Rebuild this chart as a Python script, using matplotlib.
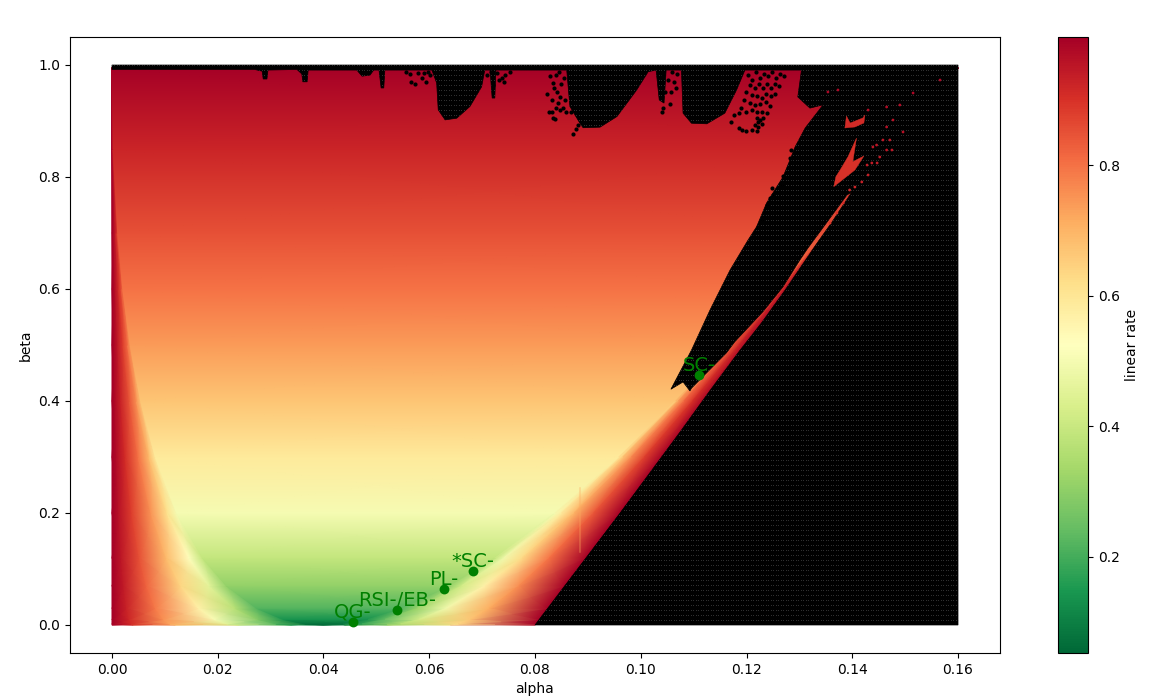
import numpy as np
import matplotlib
matplotlib.use("Agg")
import matplotlib.pyplot as plt
from matplotlib.patches import Polygon, Rectangle

# rate field: one row per beta, alpha positions vary per row
beta_rows = [0, .002, .01, .03, .07, .12, .2, .3, .4, .5, .6, .7, .85, .995]
alpha_table = [
 [0, .004, .012, .024, .034, .04, .04, .044, .052, .064, .08],
 [0, .00365, .01095, .0219, .031, .0365, .04366, .04731, .05461, .06556, .0802],
 [0, .00324, .00972, .01944, .02754, .0324, .0484, .05164, .05812, .06784, .0808],
 [0, .00273, .0082, .0164, .02324, .02734, .05506, .05779, .06326, .07146, .0824],
 [0, .00216, .00649, .01298, .01839, .02163, .064, .06616, .07049, .07698, .0856],
 [0, .00171, .00513, .01025, .01453, .01709, .07251, .07422, .07764, .08276, .0896],
 [0, .00122, .00367, .00733, .01039, .01222, .08378, .085, .08745, .09111, .096],
 [0, .00082, .00245, .00491, .00695, .00818, .09582, .09664, .09827, .10073, .104],
 [0, .00054, .00162, .00324, .00459, .0054, .1066, .10714, .10822, .10984, .112],
 [0, .00034, .00103, .00206, .00292, .00343, .11657, .11691, .1176, .11863, .12],
 [0, .0002, .00061, .00122, .00173, .00203, .12597, .12617, .12658, .12719, .128],
 [0, .00011, .00032, .00064, .00091, .00107, .13493, .13504, .13525, .13557, .136],
 [0, .00002, .00007, .00015, .00021, .00024, .14776, .14778, .14783, .14791, .148],
 [0, .00001, .00002, .00003, .00004, .00005, .16, .16001, .16002, .16003, .16004],
]
rate_table = [
 [1, .9, .7, .4, .15, .02, .02, .1, .3, .6, 1],
 [1, .9085, .7255, .45, .2171, .07, .07, .1689, .3576, .6339, 1],
 [1, .918, .7537, .504, .2866, .14, .14, .2392, .4192, .6711, 1],
 [1, .9294, .7868, .5669, .3672, .22, .22, .3215, .4903, .7146, 1],
 [1, .9417, .8228, .6354, .4572, .31, .31, .4143, .5682, .7618, 1],
 [1, .9512, .8508, .6897, .5308, .39, .39, .4913, .6308, .7989, 1],
 [1, .9614, .8814, .75, .6151, .5, .5, .5805, .7007, .8396, 1],
 [1, .9704, .9084, .8043, .6936, .59, .59, .6644, .7644, .8756, 1],
 [1, .9772, .9289, .8463, .7563, .67, .67, .7319, .8141, .9031, 1],
 [1, .9826, .9454, .881, .8092, .74, .74, .7895, .8554, .9254, 1],
 [1, .987, .9593, .9106, .8553, .8, .8, .84, .891, .9443, 1],
 [1, .991, .9714, .9367, .8966, .85, .85, .8856, .9226, .9607, 1],
 [1, .995, .985, .965, .945, .925, .925, .945, .965, .985, 1],
 [1, 1, 1, 1, 1, 1, .998, 1, 1, 1, 1],
]

# edge of the diverged (black) region, traced along the top, wedge and sliver
edge_alpha = [0, .027, .0284, .0286, .0293, .0295, .035, .0359, .0361, .0369, .0371, .0463, .0473, .0488, .0495,
              .0505, .0509, .0514, .0516, .0605, .0614, .0617, .063, .0652, .0677, .0699, .0705,
              .0715, .0719, .0724, .0726, .086, .0866, .0885, .0891, .0923, .0955, .0992, .1014,
              .1029, .1035, .1044, .1048, .1077, .108, .1096, .1125, .1159, .1181, .1197,
              .1304, .1297, .132, .1345, .1311, .1292, .1282, .1269, .1238, .1219, .1203, .1169, .1131, .1096, .1057,
              .108, .1093, .1096, .1162, .1178, .1231, .1269, .1301, .1316, .1348, .139,
              .1399, .1362, .1332, .1273, .1228, .1188, .1132, .1077, .0961, .08, .16, .16, 0]
edge_beta = [.992, .992, .989, .975, .975, .991, .992, .984, .97, .97, .991, .991, .98, .982, .991,
             .991, .959, .959, .991, .991, .968, .92, .902, .905, .926, .961, .991,
             .991, .941, .941, .991, .991, .926, .896, .888, .889, .908, .955, .988,
             .991, .9375, .932, .991, .991, .914, .896, .895, .914, .955, .991,
             .991, .943, .923, .929, .8875, .854, .83, .8, .7536, .711, .6875, .634, .5625, .491, .421,
             .434, .418, .423, .486, .506, .5595, .604, .652, .673, .714, .768,
             .773, .72, .68, .598, .539, .491, .42, .348, .2, 0, 0, 1, 1]

# black specks inside the coloured area near the top and the wedge
speck_alpha = [.0556, .0564, .0579, .0565, .0573, .0586, .0594, .0601, .0598, .059,
               .0709, .0717, .0728, .0738, .0743, .0753, .0741, .0732, .0721,
               .0823, .0828, .0834, .084, .0845, .0836, .0842, .0849, .0855, .0847, .0857, .0844, .0832, .0853, .0847, .084,
               .0859, .0832, .0826, .0834, .0838, .0868, .0878, .0881, .0872,
               .1042, .1052, .1059, .1069, .1063, .1046, .1067, .1057, .1042, .1055, .104,
               .1203, .121, .1218, .1226, .1233, .1241, .1248, .1256, .1263, .1271,
               .1207, .1216, .1224, .1231, .1239, .1246, .1254, .1261,
               .1199, .121, .122, .1229, .1237, .1246, .1254,
               .1195, .1207, .1216, .1226, .1237, .1244,
               .119, .1199, .121, .122, .1229, .1239, .1176, .1186, .117,
               .122, .1226, .1231, .1216, .1222, .1229, .1222, .1186, .1192, .1199, .121, .122,
               .1248, .1267, .125, .1244, .1238, .1229, .1222, .1212, .1207, .1282, .1285, .1269]
speck_beta = [.9875, .9839, .9857, .9696, .966, .9768, .9696, .9821, .9875, .9857,
              .982, .9875, .9857, .9768, .982, .9875, .9696, .9732, .9643,
              .9482, .9804, .9679, .9821, .9875, .9589, .9518, .9661, .9768, .9429, .9375, .9321, .9375, .9232, .9196, .9232,
              .9161, .9161, .9161, .9054, .9036, .9161, .8857, .8929, .8768,
              .982, .9732, .9875, .9839, .9696, .9518, .9589, .9518, .9232, .9304, .9161,
              .982, .9732, .9875, .9768, .9839, .9804, .9875, .9768, .9839, .9804,
              .9643, .9589, .9661, .9589, .9661, .9589, .9661, .9625,
              .9518, .9464, .9446, .9411, .9482, .9446, .9482,
              .9375, .9321, .9286, .9304, .9339, .9268,
              .9232, .9161, .9196, .9161, .9161, .9143, .9107, .9143, .8982,
              .9054, .9018, .9054, .8929, .8893, .8946, .8982, .8875, .8839, .8821, .8839, .8821,
              .7804, .7839, .7679, .7625, .75, .7232, .7107, .6929, .6839, .8339, .8482, .8018]

# coloured specks and fragments inside the black area
red_alpha = [.1373, .1354, .1515, .1566, .149, .1465, .143, .1477, .1496, .1465, .1446, .1471, .1458, .1439, .1465,
             .1452, .1437, .143, .1418, .1405, .1395, .1383, .1371, .1358, .1428, .1447, .1475]
red_beta = [.9554, .9518, .95, .9732, .9286, .925, .9196, .9018, .8804, .8893, .8571, .8661, .8661, .8536, .8482,
            .8357, .825, .8036, .7911, .7821, .7768, .7536, .7357, .7179, .8214, .825, .8482]
red_rate = [.98, .98, .98, .98, .97, .97, .97, .96, .96, .96, .95, .95, .95, .95, .95,
            .94, .94, .93, .93, .92, .92, .91, .9, .89, .94, .94, .95]
frag1_alpha = [.1365, .1369, .1377, .1392, .1408, .1401, .1422, .1405, .1377]
frag1_beta = [.7827, .8005, .8125, .8363, .8696, .8273, .8375, .8125, .7916]
frag2_alpha = [.1386, .1389, .1396, .142, .1424, .1422, .1405]
frag2_beta = [.8875, .9089, .8964, .9054, .9107, .8964, .8893]
frag_rate = [.9, .91]

# faint lighter streak on the right band
streak_alpha = [.0885, .0885]
streak_beta = [.13, .245]
streak_rate = .72

# named methods
method_names = ["QG-", "RSI-/EB-", "PL-", "*SC-", "SC-"]
method_alpha = [.0456, .0539, .0628, .0683, .111]
method_beta = [.0054, .0268, .0643, .0964, .446]

alpha_ticks = [0, .02, .04, .06, .08, .10, .12, .14, .16]
alpha_tick_labels = ["0.00", "0.02", "0.04", "0.06", "0.08", "0.10", "0.12", "0.14", "0.16"]
beta_ticks = [0, .2, .4, .6, .8, 1.0]
rate_ticks = [.2, .4, .6, .8]

cmap = plt.get_cmap("RdYlGn_r")
vmin, vmax = .053, .996

fig = plt.figure(figsize=(11.51, 6.99), dpi=100)
ax = fig.add_axes([70 / 1151, 46 / 699, 930 / 1151, 616 / 699])
cax = fig.add_axes([1058 / 1151, 46 / 699, 30 / 1151, 616 / 699])

ax.add_patch(Rectangle((0, 0), .16, 1, color="black", lw=0, zorder=0))
X = np.array(alpha_table)
Y = np.repeat(np.array(beta_rows)[:, None], X.shape[1], axis=1)
mesh = ax.pcolormesh(X, Y, np.array(rate_table), shading="gouraud", cmap=cmap, vmin=vmin, vmax=vmax, zorder=1)
ax.plot(streak_alpha, streak_beta, color=cmap((streak_rate - vmin) / (vmax - vmin)), lw=1.5, alpha=.3,
        solid_capstyle="round", zorder=1.5)

region = Polygon(np.column_stack([edge_alpha, edge_beta]), closed=True, facecolor="black", edgecolor="black",
                 lw=0.5, zorder=2)
ax.add_patch(region)

# dotted texture of the black area
ga, gb = np.meshgrid(np.linspace(0, .16, 340), np.linspace(0, 1, 113))
tex = ax.scatter(ga.ravel(), gb.ravel(), s=0.5, color="#333333", lw=0, zorder=3)
tex.set_clip_path(region)

for fa, fb, fr in [(frag1_alpha, frag1_beta, frag_rate[0]), (frag2_alpha, frag2_beta, frag_rate[1])]:
    ax.fill(fa, fb, color=cmap((fr - vmin) / (vmax - vmin)), lw=0.3, zorder=4)
ax.scatter(red_alpha, red_beta, c=red_rate, cmap=cmap, vmin=vmin, vmax=vmax, s=4, lw=0, zorder=4)
ax.scatter(speck_alpha, speck_beta, s=9, color="black", lw=0, zorder=4)

ax.scatter(method_alpha, method_beta, s=50, color="green", lw=0, zorder=6)
for name, a, b in zip(method_names, method_alpha, method_beta):
    ax.text(a, b, name, color="green", fontsize=14, ha="center", va="bottom", zorder=7)

ax.set_xlim(-.00794, .16794)
ax.set_ylim(-.05, 1.05)
ax.set_xticks(alpha_ticks, alpha_tick_labels)
ax.set_yticks(beta_ticks)
ax.set_xlabel("alpha")
ax.set_ylabel("beta")

cb = fig.colorbar(mesh, cax=cax)
cb.set_ticks(rate_ticks)
cb.set_label("linear rate")

fig.savefig("out.png", dpi=100)
